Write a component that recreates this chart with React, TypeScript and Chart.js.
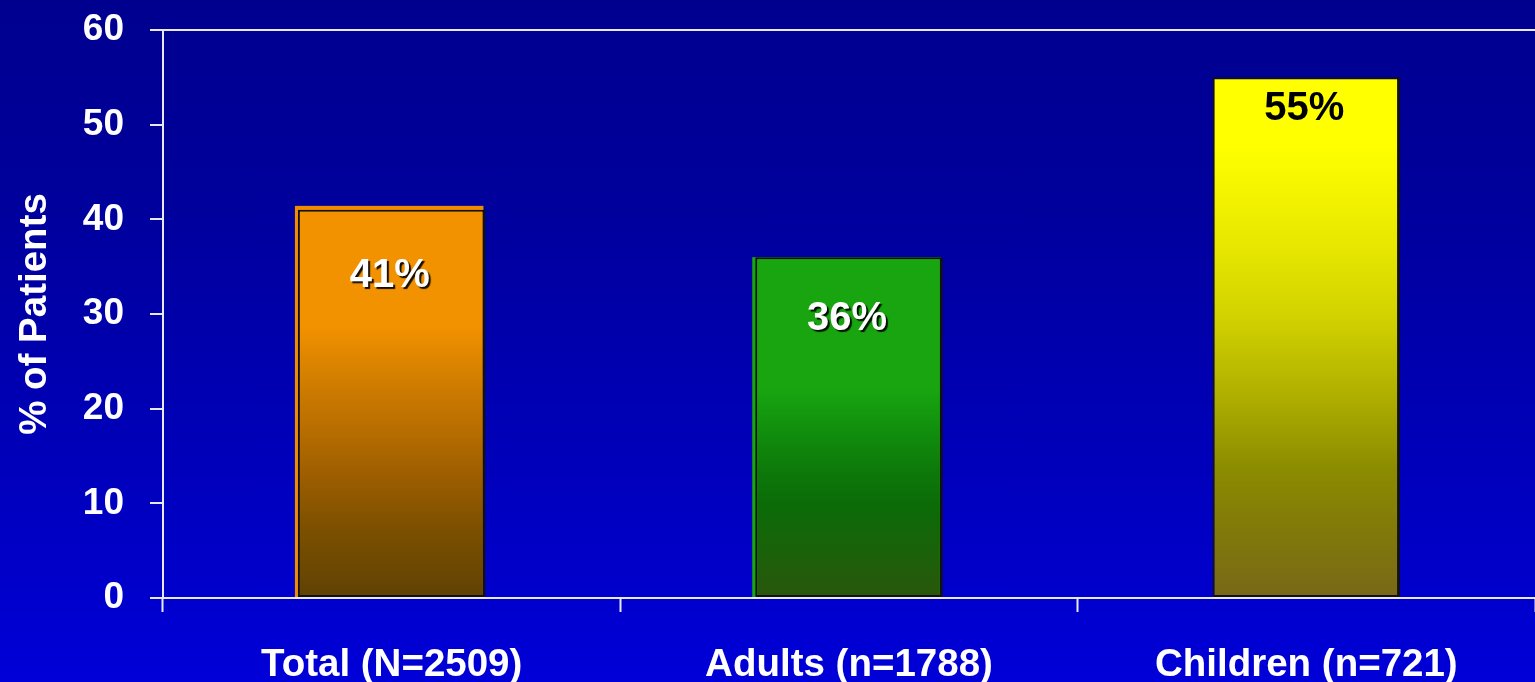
import React, { useEffect, useRef } from "react";
import { Chart, registerables } from "chart.js";

Chart.register(...registerables);

// Chart data
const categories = ["Total (N=2509)", "Adults (n=1788)", "Children (n=721)"];
const percentPatients = [41, 36, 55];
const valueLabels = ["41%", "36%", "55%"];
const yTickValues = [0, 10, 20, 30, 40, 50, 60];

// Styling: vertical gradient stops per bar (fraction from bar top to base)
const barStops: [number, string][][] = [
  [
    [0, "#f39200"],
    [0.3, "#f39200"],
    [0.38, "#df8600"],
    [0.47, "#cb7a00"],
    [0.58, "#b56c00"],
    [0.7, "#9a5c00"],
    [0.82, "#7c5000"],
    [1, "#604204"],
  ],
  [
    [0, "#18a510"],
    [0.39, "#18a510"],
    [0.5, "#11900d"],
    [0.62, "#0d7a0a"],
    [0.73, "#0b6b07"],
    [0.86, "#1a620a"],
    [1, "#2a560c"],
  ],
  [
    [0, "#ffff00"],
    [0.13, "#ffff00"],
    [0.33, "#e6e600"],
    [0.46, "#d2d200"],
    [0.59, "#b4b400"],
    [0.75, "#8c8c00"],
    [0.88, "#80780a"],
    [1, "#786818"],
  ],
];
// Thin coloured lip drawn outside the outlined face (left, top widths in px)
const barLip: ([number, number, string] | null)[] = [
  [3, 4, "#f08c00"],
  [3, 0, "#18a510"],
  null,
];
const labelColors = ["#ffffff", "#ffffff", "#000000"];
const labelShadow = [true, true, false];
const labelDrop = [66, 62, 32];

const FONT = "'Liberation Sans', Arial, sans-serif";

const barLipPlugin = {
  id: "barLip",
  beforeDatasetsDraw(chart: any) {
    const { ctx } = chart;
    const meta = chart.getDatasetMeta(0);
    ctx.save();
    meta.data.forEach((bar: any, i: number) => {
      const lip = barLip[i];
      if (!lip) return;
      const [lw, th, col] = lip;
      const { x, y, base, width } = bar.getProps(["x", "y", "base", "width"], true);
      const left = x - width / 2;
      ctx.fillStyle = col;
      ctx.fillRect(left - lw, y - th, width + lw - 2, base - y + th);
    });
    ctx.restore();
  },
};

const valueLabelPlugin = {
  id: "valueLabels",
  afterDatasetsDraw(chart: any) {
    const { ctx } = chart;
    const meta = chart.getDatasetMeta(0);
    ctx.save();
    ctx.font = `bold 40px ${FONT}`;
    ctx.textAlign = "center";
    ctx.textBaseline = "middle";
    meta.data.forEach((bar: any, i: number) => {
      ctx.save();
      if (labelShadow[i]) {
        ctx.shadowColor = "rgba(0,0,0,0.9)";
        ctx.shadowOffsetX = 2;
        ctx.shadowOffsetY = 2;
        ctx.shadowBlur = 1;
      }
      ctx.fillStyle = labelColors[i];
      ctx.fillText(valueLabels[i], bar.x - 2, bar.y + labelDrop[i]);
      ctx.restore();
    });
    ctx.restore();
  },
};

export default function App() {
  const canvasRef = useRef<HTMLCanvasElement | null>(null);

  useEffect(() => {
    const canvas = canvasRef.current;
    if (!canvas) return;

    const chart = new Chart(canvas, {
      type: "bar",
      data: {
        labels: categories,
        datasets: [
          {
            data: percentPatients,
            backgroundColor: (c: any) => {
              const ch = c.chart;
              const i = c.dataIndex;
              if (!ch.chartArea || i === undefined) return "#f39200";
              const y = ch.scales.y;
              const top = y.getPixelForValue(percentPatients[i]);
              const base = y.getPixelForValue(0);
              const g = ch.ctx.createLinearGradient(0, top, 0, base);
              barStops[i].forEach(([o, col]) => g.addColorStop(o, col));
              return g;
            },
            borderColor: "#111111",
            borderWidth: { left: 2, top: 2, right: 3, bottom: 2 },
            borderSkipped: false,
            barPercentage: 0.41,
            categoryPercentage: 1,
          },
        ],
      },
      options: {
        animation: false,
        responsive: false,
        maintainAspectRatio: false,
        layout: { padding: { top: 30, right: 0, left: 0, bottom: 0 } },
        plugins: {
          legend: { display: false },
          tooltip: { enabled: false },
        },
        scales: {
          x: {
            grid: {
              offset: true,
              drawOnChartArea: false,
              drawTicks: true,
              tickLength: 14,
              tickColor: "#e8e8f8",
              tickWidth: 2,
            },
            border: { display: true, color: "#e8e8f8", width: 2 },
            ticks: {
              color: "#ffffff",
              font: { family: FONT, size: 38.5, weight: "bold" },
              padding: 30,
              maxRotation: 0,
              autoSkip: false,
            },
            afterFit: (s: any) => {
              s.height = 84;
            },
          },
          y: {
            min: 0,
            max: 60,
            afterBuildTicks: (s: any) => {
              s.ticks = yTickValues.map((v) => ({ value: v }));
            },
            grid: {
              drawOnChartArea: true,
              color: (c: any) =>
                c.tick && c.tick.value === 60 ? "#e8e8f8" : "rgba(0,0,0,0)",
              lineWidth: 2,
              drawTicks: true,
              tickLength: 13,
              tickColor: "#e8e8f8",
              tickWidth: 2,
            },
            border: { display: true, color: "#e8e8f8", width: 2 },
            ticks: {
              color: "#ffffff",
              font: { family: FONT, size: 37, weight: "bold" },
              padding: 26,
            },
            title: {
              display: true,
              text: "% of Patients",
              color: "#ffffff",
              font: { family: FONT, size: 38.5, weight: "bold" },
              padding: { top: 12, bottom: 0 },
            },
            afterFit: (s: any) => {
              s.width = 163;
              s.paddingTop = 0;
              s.paddingBottom = 0;
            },
          },
        },
      },
      plugins: [barLipPlugin, valueLabelPlugin],
    });

    return () => chart.destroy();
  }, []);

  return (
    <div
      style={{
        position: "absolute",
        left: 0,
        top: 0,
        width: 1535,
        height: 682,
        overflow: "hidden",
        background:
          "linear-gradient(to bottom, #00008f 0%, #00009c 30%, #0000b8 65%, #0000d8 100%)",
      }}
    >
      <canvas ref={canvasRef} width={1535} height={682} />
    </div>
  );
}
